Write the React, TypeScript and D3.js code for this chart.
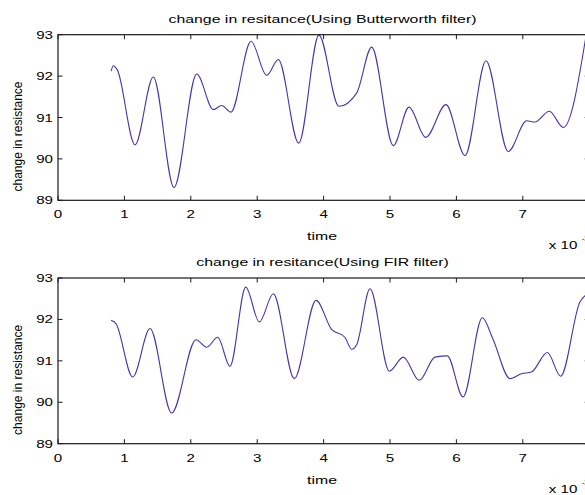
import React from 'react';
import * as d3 from 'd3';

// time (x 10^-3) and resistance values
const tButter = [0.8, 0.833, 0.893, 1.16, 1.435, 1.747, 2.089, 2.34, 2.465, 2.605, 2.907, 3.143, 3.318, 3.625, 3.93, 4.23, 4.498, 4.724, 5.05, 5.286, 5.538, 5.843, 6.13, 6.446, 6.78, 7.06, 7.18, 7.4, 7.61, 7.96];
const vButter = [92.12, 92.25, 92.15, 90.34, 91.98, 89.31, 92.05, 91.19, 91.29, 91.13, 92.84, 92.02, 92.4, 90.38, 92.99, 91.27, 91.59, 92.7, 90.32, 91.25, 90.52, 91.31, 90.08, 92.37, 90.18, 90.92, 90.89, 91.15, 90.76, 93.05];

const tFir = [0.8, 0.873, 1.125, 1.386, 1.712, 2.078, 2.239, 2.405, 2.59, 2.827, 3.032, 3.243, 3.559, 3.886, 4.12, 4.32, 4.423, 4.498, 4.699, 4.99, 5.2, 5.44, 5.678, 5.863, 6.1, 6.39, 6.55, 6.807, 6.98, 7.13, 7.37, 7.57, 7.86, 7.96];
const vFir = [91.98, 91.9, 90.61, 91.78, 89.74, 91.51, 91.33, 91.57, 90.87, 92.78, 91.94, 92.62, 90.57, 92.46, 91.76, 91.57, 91.28, 91.39, 92.74, 90.75, 91.09, 90.53, 91.09, 91.12, 90.13, 92.04, 91.53, 90.57, 90.69, 90.73, 91.2, 90.63, 92.42, 92.6];

const xTicks = [0, 1, 2, 3, 4, 5, 6, 7, 8];
const xLabels = [0, 1, 2, 3, 4, 5, 6, 7];
const yTicks = [89, 90, 91, 92, 93];

const W = 585;
const H = 495;
const LEFT = 58;
const RIGHT = 589.2;
const SX = 1.44; // horizontal text stretch seen in the picture
const FONT = 'Liberation Sans, Arial, sans-serif';
const LINE = '#4636a6';

interface PanelProps {
  id: string;
  title: string;
  t: number[];
  v: number[];
  top: number;
  bottom: number;
}

const Stretch: React.FC<{ x: number; y: number; size: number; anchor?: string; children: React.ReactNode }> = ({ x, y, size, anchor = 'middle', children }) => (
  <text
    transform={`translate(${x},${y}) scale(${SX},1)`}
    textAnchor={anchor}
    fontSize={size}
    fontFamily={FONT}
    fill="#000"
  >
    {children}
  </text>
);

const Panel: React.FC<PanelProps> = ({ id, title, t, v, top, bottom }) => {
  const x = d3.scaleLinear().domain([0, 8]).range([LEFT, RIGHT]);
  const y = d3.scaleLinear().domain([89, 93]).range([bottom, top]);
  const pts = t.map((d, i) => [d, v[i]] as [number, number]);
  const line = d3
    .line<[number, number]>()
    .x((d) => x(d[0]))
    .y((d) => y(d[1]))
    .curve(d3.curveMonotoneX);
  const tick = 4.5;
  const mid = (top + bottom) / 2;

  return (
    <g>
      <defs>
        <clipPath id={id}>
          <rect x={LEFT} y={top} width={RIGHT - LEFT} height={bottom - top} />
        </clipPath>
      </defs>
      <path d={line(pts) || ''} fill="none" stroke={LINE} strokeWidth={1.1} clipPath={`url(#${id})`} />
      <rect x={LEFT} y={top} width={RIGHT - LEFT} height={bottom - top} fill="none" stroke="#1a1a1a" strokeWidth={1.2} />
      {xTicks.map((d) => (
        <g key={`x${d}`}>
          <line x1={x(d)} x2={x(d)} y1={bottom} y2={bottom - tick} stroke="#1a1a1a" />
          <line x1={x(d)} x2={x(d)} y1={top} y2={top + tick} stroke="#1a1a1a" />
        </g>
      ))}
      {xLabels.map((d) => (
        <Stretch key={`xl${d}`} x={x(d)} y={bottom + 18} size={10.5}>{d}</Stretch>
      ))}
      {yTicks.map((d) => (
        <g key={`y${d}`}>
          <line x1={LEFT} x2={LEFT + tick} y1={y(d)} y2={y(d)} stroke="#1a1a1a" />
          <line x1={RIGHT} x2={RIGHT - tick} y1={y(d)} y2={y(d)} stroke="#1a1a1a" />
          <Stretch x={LEFT - 5} y={y(d) + 4} size={10.5} anchor="end">{d}</Stretch>
        </g>
      ))}
      <Stretch x={322.5} y={top - 12} size={11}>{title}</Stretch>
      <Stretch x={322} y={bottom + 40} size={11}>time</Stretch>
      <Stretch x={563} y={bottom + 49} size={10.5}>x 10</Stretch>
      <text x={582} y={bottom + 41} fontSize={7} fontFamily={FONT}>-3</text>
      <text
        transform={`translate(22,${mid + 19}) rotate(-90)`}
        textAnchor="middle"
        fontSize={12}
        fontFamily={FONT}
      >
        change in resistance
      </text>
    </g>
  );
};

export default function App() {
  return (
    <svg width={W} height={H} style={{ position: 'absolute', left: 0, top: 0, background: '#fff' }}>
      <rect width={W} height={H} fill="#fff" />
      <Panel id="c1" title="change in resitance(Using Butterworth filter)" t={tButter} v={vButter} top={34.7} bottom={200.3} />
      <Panel id="c2" title="change in resitance(Using FIR filter)" t={tFir} v={vFir} top={278} bottom={443.7} />
    </svg>
  );
}
